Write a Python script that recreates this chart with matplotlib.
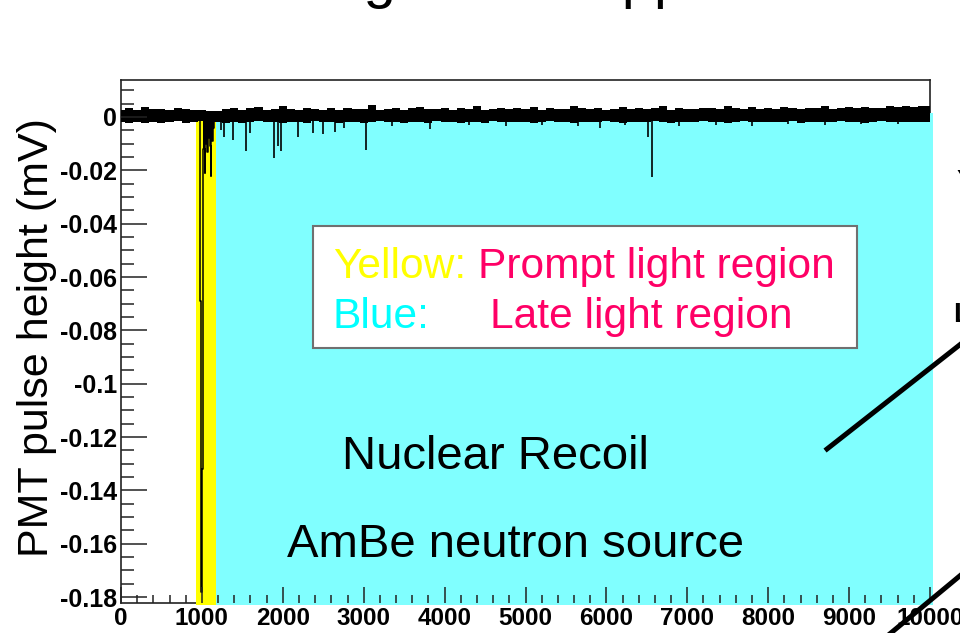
import matplotlib
matplotlib.use('Agg')
import matplotlib.pyplot as plt
import numpy as np
from matplotlib.patches import Rectangle
from matplotlib.lines import Line2D

plt.rcParams['font.family'] = ['Liberation Sans', 'DejaVu Sans']

# ---------------- data ----------------
# baseline noise envelope on a 100 ns grid (0 .. 10000 ns)
noise_hi = [0.0028, 0.0032, 0.0026, 0.0036, 0.0029, 0.0031, 0.0025, 0.0034, 0.0030, 0.0027,
            0.0026, 0.0023, 0.0022, 0.0029, 0.0034, 0.0026, 0.0032, 0.0038, 0.0027, 0.0031,
            0.0042, 0.0029, 0.0026, 0.0033, 0.0030, 0.0028, 0.0035, 0.0027, 0.0032, 0.0029,
            0.0031, 0.0044, 0.0028, 0.0030, 0.0033, 0.0026, 0.0032, 0.0037, 0.0029, 0.0031,
            0.0034, 0.0028, 0.0032, 0.0030, 0.0041, 0.0027, 0.0031, 0.0035, 0.0029, 0.0032,
            0.0030, 0.0036, 0.0028, 0.0033, 0.0031, 0.0029, 0.0043, 0.0032, 0.0030, 0.0034,
            0.0028, 0.0031, 0.0037, 0.0029, 0.0033, 0.0030, 0.0032, 0.0040, 0.0028, 0.0034,
            0.0031, 0.0029, 0.0035, 0.0032, 0.0030, 0.0042, 0.0033, 0.0029, 0.0036, 0.0031,
            0.0034, 0.0030, 0.0038, 0.0032, 0.0029, 0.0035, 0.0033, 0.0041, 0.0031, 0.0034,
            0.0037, 0.0032, 0.0039, 0.0035, 0.0033, 0.0040, 0.0036, 0.0042, 0.0038, 0.0041,
            0.0040]
noise_lo = [-0.0019, -0.0023, -0.0017, -0.0021, -0.0018, -0.0024, -0.0020, -0.0016, -0.0022, -0.0019,
            -0.0015, -0.0020, -0.0018, -0.0022, -0.0017, -0.0021, -0.0019, -0.0016, -0.0020, -0.0018,
            -0.0022, -0.0017, -0.0019, -0.0021, -0.0016, -0.0020, -0.0018, -0.0023, -0.0017, -0.0019,
            -0.0021, -0.0018, -0.0016, -0.0020, -0.0019, -0.0022, -0.0017, -0.0018, -0.0021, -0.0016,
            -0.0020, -0.0018, -0.0022, -0.0017, -0.0019, -0.0021, -0.0016, -0.0020, -0.0018, -0.0019,
            -0.0017, -0.0021, -0.0018, -0.0016, -0.0020, -0.0019, -0.0022, -0.0017, -0.0018, -0.0020,
            -0.0016, -0.0019, -0.0021, -0.0017, -0.0018, -0.0020, -0.0016, -0.0019, -0.0022, -0.0017,
            -0.0018, -0.0020, -0.0016, -0.0019, -0.0017, -0.0021, -0.0018, -0.0016, -0.0020, -0.0019,
            -0.0017, -0.0020, -0.0018, -0.0016, -0.0021, -0.0017, -0.0019, -0.0018, -0.0020, -0.0016,
            -0.0019, -0.0017, -0.0021, -0.0018, -0.0016, -0.0020, -0.0018, -0.0017, -0.0019, -0.0018,
            -0.0017]

# prompt pulse (step edges in ns, value after each edge in mV)
pulse_t = [960, 976, 992, 1000, 1008, 1036, 1044, 1060, 1080, 1100, 1108, 1116, 1136, 1150, 1170]
pulse_v = [0.000, -0.069, -0.178, -0.132, -0.012, -0.021, -0.010, -0.013, -0.008, -0.011,
           -0.022, -0.009, -0.004, -0.001, 0.000]

# single photo-electron spikes in the late region
spike_t = [1230, 1273, 1384, 1545, 1600, 1891, 1935, 1978, 2188, 2373, 2497, 2645, 2760,
           3028, 3350, 3820, 4300, 4760, 5210, 5650, 5920, 6230, 6514, 6564, 6900, 7350,
           7800, 8250, 8700, 9150, 9600]
spike_d = [-0.0050, -0.0075, -0.0086, -0.0128, -0.0060, -0.0154, -0.0110, -0.0128, -0.0075,
           -0.0060, -0.0064, -0.0056, -0.0040, -0.0124, -0.0035, -0.0045, -0.0030, -0.0035,
           -0.0030, -0.0032, -0.0040, -0.0030, -0.0075, -0.0225, -0.0032, -0.0030, -0.0034,
           -0.0028, -0.0030, -0.0026, -0.0028]

# integration windows (ns)
prompt_window = (927, 1170)
late_window = (1170, 10040)

y_ticks = [0, -0.02, -0.04, -0.06, -0.08, -0.1, -0.12, -0.14, -0.16, -0.18]
y_ticklabels = ['0', '-0.02', '-0.04', '-0.06', '-0.08', '-0.1', '-0.12', '-0.14', '-0.16', '-0.18']
x_ticks = [0, 1000, 2000, 3000, 4000, 5000, 6000, 7000, 8000, 9000, 10000]
x_ticklabels = ['0', '1000', '2000', '3000', '4000', '5000', '6000', '7000', '8000', '9000', '10000']

# ---------------- figure ----------------
W, H = 960, 633
fig = plt.figure(figsize=(9.6, 6.33), dpi=100)
fig.patch.set_facecolor('white')

def fx(px):
    return px / W

def fy(py):
    return 1 - py / H

ax = fig.add_axes([fx(121), fy(603), (930 - 121) / W, (603 - 80) / H])
ax.set_xlim(0, 10000)
ax.set_ylim(-0.18223, 0.01387)

for s in ax.spines.values():
    s.set_linewidth(1.2)
    s.set_color('#222222')
    s.set_zorder(0.5)

# shaded windows (cover the frame, under the trace)
rect_top = 0.0015
rect_bot = -0.1828
ax.add_patch(Rectangle((prompt_window[0], rect_bot), prompt_window[1] - prompt_window[0],
                       rect_top - rect_bot, facecolor='#FFFF00', edgecolor='none',
                       zorder=1, clip_on=False))
ax.add_patch(Rectangle((late_window[0], rect_bot), late_window[1] - late_window[0],
                       rect_top - rect_bot, facecolor='#80FFFF', edgecolor='none',
                       zorder=1, clip_on=False))

# baseline noise band
grid_t = np.arange(0, 10001, 100)
ax.fill_between(grid_t, noise_lo, noise_hi, step='mid', color='black', lw=0, zorder=2)

# prompt pulse
ax.step(pulse_t, pulse_v, where='post', color='black', lw=1.1, zorder=2.2)
ax.fill_between(pulse_t[4:], pulse_v[4:], 0, step='post', color='black', lw=0, zorder=2.1)

# late spikes
ax.vlines(spike_t, 0, spike_d, color='black', lw=1.2, zorder=2.2)

# ticks
ax.set_axisbelow(False)
ax.set_xticks(x_ticks)
ax.set_xticklabels(x_ticklabels)
ax.set_xticks(np.arange(0, 10001, 200), minor=True)
ax.set_yticks(y_ticks)
ax.set_yticklabels(y_ticklabels)
ax.set_yticks(np.arange(-0.18, 0.0126, 0.005), minor=True)
ax.tick_params(axis='x', which='major', direction='in', length=11.5, width=1.1, pad=3,
               labelsize=17.5, color='#222222')
ax.tick_params(axis='x', which='minor', direction='in', length=5.8, width=1.1, color='#222222')
ax.tick_params(axis='y', which='major', direction='in', length=18.7, width=1.1, pad=3,
               labelsize=18, color='#222222')
ax.tick_params(axis='y', which='minor', direction='in', length=9.4, width=1.1, color='#222222')
for lab in ax.get_xticklabels() + ax.get_yticklabels():
    lab.set_fontweight('bold')

# axis title
fig.text(fx(48), fy(338), 'PMT pulse height (mV)', rotation=90, rotation_mode='anchor',
         ha='center', va='baseline', fontsize=31, color='black')

# legend box
fig.patches.append(Rectangle((fx(313), fy(348)), (857 - 313) / W, (348 - 226) / H,
                             transform=fig.transFigure, facecolor='white',
                             edgecolor='#707070', lw=1.5, zorder=3))
fs_leg = 30.6
fig.text(fx(333), fy(278), 'Yellow:', color='#FFFF00', fontsize=fs_leg, zorder=4)
fig.text(fx(478), fy(278), 'Prompt light region', color='#FF0066', fontsize=fs_leg, zorder=4)
fig.text(fx(333), fy(328), 'Blue:', color='#00FFFF', fontsize=fs_leg, zorder=4)
fig.text(fx(490), fy(328), 'Late light region', color='#FF0066', fontsize=fs_leg, zorder=4)

# annotations
fig.text(fx(342), fy(469), 'Nuclear Recoil', color='black', fontsize=34, zorder=4)
fig.text(fx(287), fy(557), 'AmBe neutron source', color='black', fontsize=34, zorder=4)

# slide title (cut off at the top)
fig.text(fx(224), fy(-3), 'Timing-based approach', color='black', fontsize=41.8,
         va='baseline', ha='left', zorder=4)

# slide arrows/lines at the right edge
fig.add_artist(Line2D([fx(827), fx(985)], [fy(449), fy(325)], color='black', lw=3.6,
                      transform=fig.transFigure, zorder=4))
fig.add_artist(Line2D([fx(880), fx(985)], [fy(642), fy(555)], color='black', lw=3.6,
                      transform=fig.transFigure, zorder=4))
fig.text(fx(953), fy(322), 'Late', color='black', fontsize=20, fontweight='bold', zorder=4)
fig.text(fx(956), fy(188), 'Yellow', color='black', fontsize=18, zorder=4)

fig.savefig('out.png', dpi=100)
